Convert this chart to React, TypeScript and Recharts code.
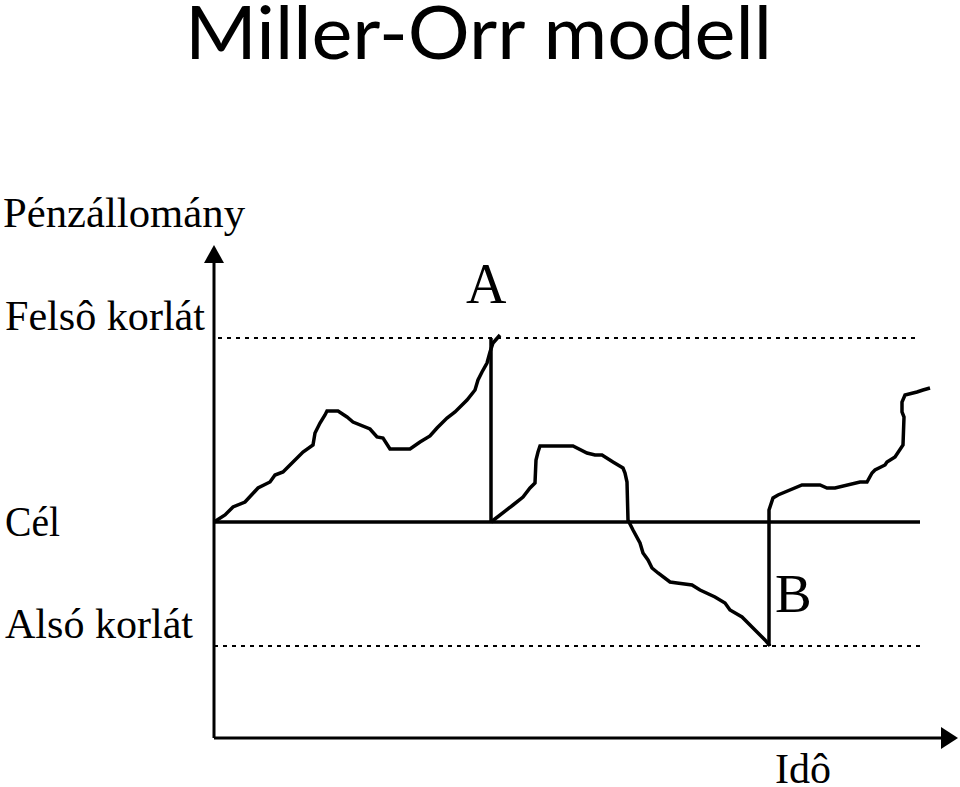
import { ComposedChart, Line, XAxis, YAxis, Scatter } from 'recharts'

// time (t) and cash balance (v) in arbitrary units
const UPPER = 100
const TARGET = 54
const LOWER = 23
const T_END = 176.5
const X_MAX = 182
const Y_MAX = 119

// first leg: from target up to the upper limit (point A)
const legToA = [
  { t: 0, v: 54 }, { t: 2.75, v: 55.75 }, { t: 4.75, v: 57.75 }, { t: 7.75, v: 59 },
  { t: 11, v: 62.5 }, { t: 14, v: 64 }, { t: 15.25, v: 65.75 }, { t: 17.25, v: 66.5 },
  { t: 18.5, v: 67.75 }, { t: 22.25, v: 71.5 }, { t: 24.75, v: 73.25 }, { t: 25.25, v: 76.25 },
  { t: 26.5, v: 78.75 }, { t: 27.75, v: 80.75 }, { t: 28.25, v: 81.75 }, { t: 31, v: 81.75 },
  { t: 33.25, v: 80.25 }, { t: 34.75, v: 79 }, { t: 39, v: 77.25 }, { t: 40.75, v: 75.25 },
  { t: 42.25, v: 75 }, { t: 44, v: 72.25 }, { t: 49, v: 72.25 }, { t: 51.5, v: 74 },
  { t: 54, v: 75.5 }, { t: 55.75, v: 77.5 }, { t: 58.25, v: 80 }, { t: 60.25, v: 81.5 },
  { t: 63.25, v: 84.5 }, { t: 65.25, v: 87 }, { t: 66, v: 89.5 }, { t: 67, v: 91.5 },
  { t: 68.25, v: 93.75 }, { t: 69, v: 96.5 }, { t: 69.75, v: 98.75 }, { t: 71.5, v: 100.75 },
]

const jumpA = [{ t: 69.25, v: UPPER }, { t: 69.25, v: TARGET }]

// second leg: back from target down to the lower limit (point B)
const legToB = [
  { t: 69.25, v: 54 }, { t: 74.75, v: 58.25 }, { t: 77.25, v: 60.25 }, { t: 79, v: 62.5 },
  { t: 80.25, v: 63.75 }, { t: 80.5, v: 69.5 }, { t: 81, v: 71.5 }, { t: 81.5, v: 73 },
  { t: 89.75, v: 73 }, { t: 93.25, v: 71.25 }, { t: 95.25, v: 70.75 }, { t: 97, v: 70.75 },
  { t: 99.75, v: 69 }, { t: 102.25, v: 67.5 }, { t: 102.75, v: 66.25 }, { t: 103.25, v: 64 },
  { t: 103.5, v: 54.5 }, { t: 104.75, v: 52 }, { t: 106.5, v: 48.75 }, { t: 107.25, v: 46.25 },
  { t: 108.5, v: 44.5 }, { t: 109.5, v: 42.5 }, { t: 111, v: 41.25 }, { t: 114, v: 39 },
  { t: 115.75, v: 38.75 }, { t: 119.5, v: 38.25 }, { t: 121.5, v: 37 }, { t: 125.25, v: 35.25 },
  { t: 127.75, v: 33.75 }, { t: 129, v: 32 }, { t: 132, v: 30.25 }, { t: 134.75, v: 27.5 },
  { t: 137.75, v: 24.5 }, { t: 139, v: 23 },
]

// jump at B plus the last leg
const legAfterB = [
  { t: 138.75, v: 23 }, { t: 138.75, v: 57 }, { t: 139, v: 57.75 }, { t: 139.75, v: 60 },
  { t: 141, v: 60.75 }, { t: 147, v: 63.25 }, { t: 151.5, v: 63.25 }, { t: 153.25, v: 62.5 },
  { t: 155.25, v: 62.5 }, { t: 161.5, v: 64 }, { t: 163.25, v: 64 }, { t: 164.5, v: 66.25 },
  { t: 165.25, v: 67 }, { t: 167.75, v: 68.25 }, { t: 168.25, v: 69 }, { t: 170.25, v: 70.25 },
  { t: 172.25, v: 73.25 }, { t: 172.5, v: 80.25 }, { t: 172, v: 81.5 }, { t: 172, v: 84 },
  { t: 172.75, v: 85.75 }, { t: 174.75, v: 86.25 }, { t: 175.75, v: 86.5 }, { t: 177.25, v: 87 },
  { t: 179, v: 87.5 },
]

const upperLine = [{ t: 1, v: UPPER }, { t: T_END, v: UPPER }]
const targetLine = [{ t: 0, v: TARGET }, { t: T_END, v: TARGET }]
const lowerLine = [{ t: 0, v: LOWER }, { t: T_END, v: LOWER }]

// axes with arrowheads
const yAxisLine = [{ t: 0, v: 0 }, { t: 0, v: Y_MAX }]
const xAxisLine = [{ t: 0, v: 0 }, { t: X_MAX, v: 0 }]
const yArrow = [{ t: 0, v: Y_MAX }]
const xArrow = [{ t: X_MAX, v: 0 }]

const SERIF = '"Liberation Serif", "Times New Roman", serif'

const UpArrow = (p: any) => (
  <polygon points={`${p.cx - 10},${p.cy + 1} ${p.cx + 10},${p.cy + 1} ${p.cx},${p.cy - 17}`} fill="#000" />
)
const RightArrow = (p: any) => (
  <polygon points={`${p.cx - 1},${p.cy - 11} ${p.cx - 1},${p.cy + 11} ${p.cx + 16},${p.cy}`} fill="#000" />
)

const lineProps = {
  stroke: '#000',
  strokeWidth: 3.5,
  dot: false,
  activeDot: false,
  isAnimationActive: false,
  type: 'linear' as const,
}

export default function App() {
  return (
    <div style={{ position: 'absolute', left: 0, top: 0, width: 960, height: 787, background: '#fff' }}>
      <ComposedChart
        width={960}
        height={787}
        margin={{ top: 262, right: 18, bottom: 49, left: 214 }}
      >
        <XAxis dataKey="t" type="number" domain={[0, X_MAX]} hide />
        <YAxis dataKey="v" type="number" domain={[0, Y_MAX]} hide />

        <Line data={upperLine} dataKey="v" {...lineProps} strokeWidth={2} strokeDasharray="4 5" />
        <Line data={lowerLine} dataKey="v" {...lineProps} strokeWidth={2} strokeDasharray="4 5" />
        <Line data={targetLine} dataKey="v" {...lineProps} />

        <Line data={yAxisLine} dataKey="v" {...lineProps} strokeWidth={3} />
        <Line data={xAxisLine} dataKey="v" {...lineProps} strokeWidth={3} />

        <Line data={legToA} dataKey="v" {...lineProps} />
        <Line data={jumpA} dataKey="v" {...lineProps} />
        <Line data={legToB} dataKey="v" {...lineProps} />
        <Line data={legAfterB} dataKey="v" {...lineProps} />

        <Scatter data={yArrow} dataKey="v" shape={UpArrow} isAnimationActive={false} />
        <Scatter data={xArrow} dataKey="v" shape={RightArrow} isAnimationActive={false} />
      </ComposedChart>

      <svg width={960} height={787} style={{ position: 'absolute', left: 0, top: 0, pointerEvents: 'none' }}>
        <text x={185} y={59} fontFamily='Lato, "Open Sans", sans-serif' fontSize={74}
          textLength={587} lengthAdjust="spacingAndGlyphs" fill="#000">
          Miller-Orr modell
        </text>
        <g fontFamily={SERIF} fill="#000">
          <text x={3} y={227} fontSize={42} textLength={242} lengthAdjust="spacingAndGlyphs">Pénzállomány</text>
          <text x={5} y={330} fontSize={42} textLength={200} lengthAdjust="spacingAndGlyphs">Felsô korlát</text>
          <text x={5} y={536} fontSize={42} textLength={55} lengthAdjust="spacingAndGlyphs">Cél</text>
          <text x={5} y={638} fontSize={42} textLength={188} lengthAdjust="spacingAndGlyphs">Alsó korlát</text>
          <text x={466} y={303} fontSize={56}>A</text>
          <text x={775} y={612} fontSize={55}>B</text>
          <text x={775} y={783} fontSize={42}>Idô</text>
        </g>
      </svg>
    </div>
  )
}
